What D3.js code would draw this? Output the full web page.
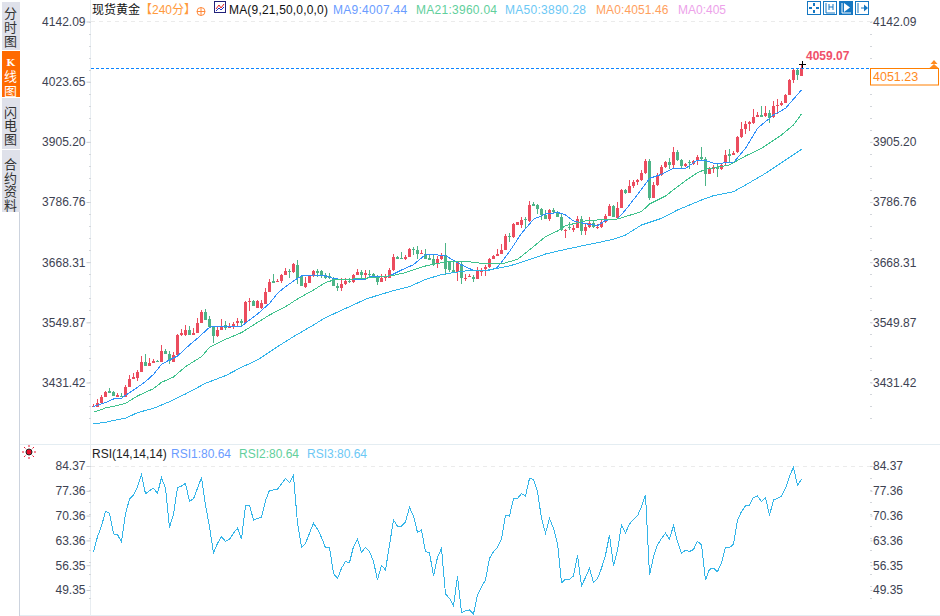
<!DOCTYPE html>
<html><head><meta charset="utf-8">
<script src="https://cdn.jsdelivr.net/npm/d3@7/dist/d3.min.js"></script>
<style>
html,body{margin:0;padding:0;background:#fff;overflow:hidden}
svg{display:block}
text{font-family:"Liberation Sans",Arial,"Noto Sans CJK SC",sans-serif;font-size:12px}
</style></head><body><svg id="c" width="940" height="616"></svg>
<script>
const priceTicks=[4142.09,4023.65,3905.20,3786.76,3668.31,3549.87,3431.42];
const priceTicksRight=[4142.09,3905.20,3786.76,3668.31,3549.87,3431.42];
const rsiTicks=[84.37,77.36,70.36,63.36,56.35,49.35];
const opens=[3383,3383,3392,3402,3415,3413,3403,3405,3403,3423,
3438,3440,3452,3472,3464,3470,3474,3472,3494,3488,
3472,3486,3525,3525,3535,3525,3529,3549,3570,3556,
3540,3523,3535,3545,3539,3541,3549,3553,3549,3590,
3592,3578,3578,3586,3610,3631,3629,3631,3643,3651,
3649,3663,3641,3620,3627,3641,3651,3651,3643,3641,
3637,3621,3618,3625,3631,3629,3643,3649,3643,3645,
3645,3641,3629,3637,3637,3653,3679,3677,3675,3679,
3694,3692,3684,3684,3677,3675,3665,3675,3682,3671,
3653,3649,3665,3635,3639,3639,3635,3649,3655,3659,
3675,3681,3684,3692,3720,3718,3742,3742,3753,3749,
3783,3781,3773,3761,3753,3771,3767,3757,3730,3737,
3732,3736,3753,3730,3738,3745,3736,3738,3747,3759,
3779,3755,3775,3810,3805,3818,3826,3830,3844,3868,
3795,3820,3840,3856,3866,3860,3885,3869,3858,3866,
3862,3868,3875,3871,3842,3852,3856,3852,3864,3881,
3879,3885,3915,3931,3940,3942,3954,3958,3956,3962,
3954,3976,3978,3982,3997,4027,4047,4035];
const closes=[3385,3392,3402,3413,3411,3405,3407,3403,3423,3438,
3442,3452,3472,3464,3470,3474,3472,3494,3488,3474,
3486,3525,3529,3535,3525,3529,3549,3570,3555,3540,
3523,3535,3541,3539,3541,3547,3553,3549,3590,3592,
3582,3592,3588,3610,3629,3627,3631,3643,3651,3649,
3665,3637,3621,3627,3641,3651,3647,3643,3637,3637,
3621,3618,3625,3631,3629,3643,3649,3643,3647,3643,
3641,3629,3637,3641,3653,3679,3675,3675,3679,3694,
3692,3684,3686,3675,3673,3663,3675,3682,3655,3653,
3649,3669,3637,3637,3641,3635,3651,3653,3659,3675,
3681,3684,3692,3720,3718,3744,3747,3751,3751,3781,
3779,3773,3761,3753,3771,3767,3757,3732,3732,3735,
3736,3753,3730,3738,3745,3738,3738,3747,3759,3779,
3757,3775,3810,3805,3818,3826,3830,3844,3868,3795,
3820,3840,3856,3866,3860,3885,3869,3858,3862,3864,
3868,3875,3871,3842,3852,3856,3852,3860,3879,3877,
3883,3915,3931,3940,3944,3954,3958,3954,3962,3952,
3976,3978,3982,3997,4027,4047,4037,4051.23];
const highs=[3389,3398,3407,3415,3421,3415,3410,3410,3427,3446,
3451,3456,3483,3488,3479,3478,3476,3505,3498,3494,
3492,3527,3537,3545,3543,3539,3558,3574,3576,3562,
3540,3541,3556,3553,3548,3550,3558,3557,3592,3598,
3594,3594,3594,3618,3635,3645,3635,3645,3657,3655,
3667,3673,3641,3639,3641,3653,3655,3653,3646,3646,
3639,3628,3637,3637,3638,3645,3655,3653,3652,3653,
3647,3643,3645,3645,3657,3684,3681,3688,3682,3696,
3698,3700,3692,3694,3684,3682,3681,3686,3706,3671,
3671,3671,3669,3645,3645,3643,3659,3657,3663,3677,
3682,3694,3704,3724,3726,3745,3747,3757,3757,3789,
3787,3783,3775,3771,3773,3775,3769,3763,3734,3747,
3742,3759,3759,3743,3757,3751,3743,3751,3764,3783,
3781,3787,3812,3812,3830,3830,3832,3850,3871,3871,
3826,3844,3860,3868,3873,3895,3889,3871,3864,3869,
3869,3879,3895,3875,3856,3860,3862,3864,3889,3891,
3887,3917,3944,3946,3946,3970,3964,3976,3976,3968,
3986,3990,3986,3999,4029,4049,4049,4059.07];
const lows=[3383,3383,3390,3402,3410,3405,3403,3403,3402,3423,
3438,3434,3452,3464,3464,3470,3472,3472,3488,3468,
3472,3485,3523,3523,3525,3525,3529,3549,3555,3540,
3509,3521,3535,3535,3539,3537,3541,3541,3549,3573,
3582,3578,3576,3586,3610,3627,3629,3627,3643,3637,
3647,3625,3621,3618,3627,3639,3639,3637,3635,3635,
3621,3612,3612,3623,3627,3627,3643,3635,3635,3637,
3639,3623,3629,3631,3637,3651,3675,3675,3673,3679,
3682,3675,3684,3675,3673,3661,3657,3673,3643,3649,
3649,3631,3625,3631,3639,3629,3635,3641,3641,3657,
3675,3681,3684,3692,3708,3716,3742,3736,3736,3747,
3779,3763,3751,3753,3749,3763,3757,3730,3716,3732,
3728,3736,3721,3722,3736,3736,3734,3736,3745,3759,
3757,3753,3775,3803,3805,3814,3820,3828,3842,3791,
3795,3818,3838,3854,3852,3852,3868,3852,3856,3852,
3860,3860,3869,3818,3842,3844,3836,3850,3860,3865,
3879,3883,3913,3921,3927,3940,3954,3954,3954,3942,
3952,3960,3976,3982,3997,4021,4027,4035];
const ma9Idx=[0,3,5,7,8,11,13,15,17,19,21,24,26,29,30,37,39,41,44,46,48,51,52,55,58,60,64,68,69,74,77,80,83,85,88,92,95,99,101,104,107,110,113,116,117,118,120,123,126,128,131,133,137,139,142,145,148,151,153,155,160,163,166,170,173,177];
const ma9Val=[3383.9,3391.8,3399,3400.3,3406.2,3422,3433.1,3447.5,3467.2,3475.8,3483.6,3505.3,3518.4,3540.1,3542,3542,3554.5,3566.3,3587.3,3607,3620.1,3636.5,3641.1,3643.1,3641.1,3635.9,3633.2,3634.5,3639.8,3641.1,3652.9,3663.4,3683.1,3683.1,3681.1,3662.8,3652.3,3652.3,3658.2,3689,3725.1,3752.7,3763.2,3765.8,3764.4,3761.2,3749.4,3744.1,3740.2,3750.7,3753.3,3771,3811.7,3833.3,3841.2,3853,3853,3869.4,3868.8,3862.9,3864.2,3892.4,3931.8,3958,3971.2,4007.44];
const ma21Idx=[0,1,3,5,8,11,15,17,20,23,27,29,33,37,40,44,48,51,55,58,60,65,71,75,78,83,88,93,97,102,106,110,113,116,117,118,123,128,131,137,139,143,148,151,153,159,163,167,172,175,177];
const ma21Val=[3374.7,3375.4,3381.3,3384.5,3390.4,3404.9,3419.3,3431.8,3442.3,3462.6,3482.3,3500.7,3516.4,3529.6,3544.7,3564.3,3580.7,3595.8,3613.6,3628,3633.2,3635.2,3638.5,3642.4,3647.7,3660.8,3668.7,3670,3666,3664.7,3673.9,3698.8,3718.5,3729.7,3734.9,3740.2,3749.4,3752.6,3753.3,3767.7,3782.8,3798.6,3828.8,3844.5,3851.1,3859.6,3877.3,3892.4,3918.7,3938.3,3960.04];
const ma50Idx=[0,3,6,8,11,15,19,23,28,33,37,41,46,50,55,58,68,71,75,79,83,87,90,94,99,104,110,113,118,130,133,137,142,146,152,155,160,163,168,173,177];
const ma50Val=[3349.8,3353.1,3358.3,3360.9,3372.1,3380.6,3393.7,3408.8,3429.8,3444.9,3461.3,3475.8,3502,3521.7,3544.7,3559.1,3595.2,3603,3612.2,3620.1,3634.5,3643.7,3647.7,3652.3,3652.9,3660.8,3675.9,3684.4,3693.6,3713.3,3721.8,3741.5,3754.6,3771,3790.7,3799.2,3807.1,3820.2,3843.2,3869.4,3890.28];
const rsi=[60.2,64.4,67.4,71.6,71.0,65.2,65.0,62.9,70.8,75.1,76.2,78.5,82.0,76.5,77.4,78.1,76.6,81.1,78.1,67.0,
70.8,78.3,78.7,79.5,74.4,75.1,78.1,81.1,73.3,67.2,59.9,62.5,64.4,63.1,63.7,65.4,66.8,63.8,73.1,73.3,
69.1,69.6,69.9,74.6,77.5,77.6,77.8,79.3,80.9,79.7,81.7,68.2,61.4,62.5,65.4,68.2,66.5,64.2,61.3,61.3,
54.0,52.6,55.5,57.4,57.1,61.6,63.7,60.0,61.4,60.2,57.4,52.2,56.3,55.0,62.1,69.1,67.4,67.4,68.6,72.7,
70.2,65.6,66.3,60.2,59.9,53.3,58.6,61.1,48.2,47.0,44.8,53.3,42.9,43.5,43.7,42.6,47.9,50.3,52.2,58.3,
60.2,61.4,63.8,70.5,70.2,75.2,75.2,76.6,75.9,80.9,80.6,77.1,69.6,65.4,69.5,66.8,62.5,51.4,52.4,52.4,
53.3,59.2,50.5,52.9,55.5,51.4,52.6,55.5,59.2,64.9,56.1,60.6,67.7,65.5,68.0,69.3,70.3,72.9,76.2,53.6,
58.7,62.1,63.9,65.4,63.7,67.6,63.0,59.7,60.6,60.2,60.8,63.1,62.1,52.2,55.2,55.5,54.5,57.1,61.4,61.3,
62.3,69.1,71.5,73.1,73.3,75.5,75.9,74.3,75.5,70.4,74.8,75.2,75.9,78.1,81.5,84.0,78.9,80.64];
const lastPrice=4051.23, lastHigh=4059.07;
const index=d3.range(opens.length);
const RED="#eb4c5e",GREEN="#4db487",C9="#2e8ffa",C21="#3fc28c",C50="#2fb3ea",CRSI="#35b5e8",AX="#3d4252";

const svg=d3.select("#c");
const x=d3.scaleLinear().domain([0,177]).range([93.5,801.5]);
const y=d3.scaleLinear().domain([3431.42,4142.09]).range([382.5,21.5]);
const yR=d3.scaleLinear().domain([49.35,84.37]).range([590,466]);
const snap=v=>Math.round(v);

// frame
const frame="#e4edf2";
svg.append("line").attr("x1",20).attr("x2",940).attr("y1",444.5).attr("y2",444.5).attr("stroke",frame);
svg.append("line").attr("x1",20).attr("x2",940).attr("y1",615.5).attr("y2",615.5).attr("stroke",frame);
svg.append("line").attr("x1",19.5).attr("x2",19.5).attr("y1",212).attr("y2",616).attr("stroke","#ccd3de");
svg.append("line").attr("x1",90.5).attr("x2",90.5).attr("y1",0).attr("y2",616).attr("stroke","#e8edf1");
svg.append("line").attr("x1",91).attr("x2",870).attr("y1",21.5).attr("y2",21.5).attr("stroke","#ebebeb").attr("stroke-dasharray","4 4");
svg.append("line").attr("x1",91).attr("x2",870).attr("y1",466.5).attr("y2",466.5).attr("stroke","#ebebeb").attr("stroke-dasharray","4 4");

// sidebar
const tabs=[{t:["分","时","图"],y0:2,y1:50,on:0,first:13,step:14},{t:["K","线","图"],y0:51,y1:97,on:1,first:62,step:14.5},{t:["闪","电","图"],y0:98,y1:149,on:0,first:112,step:13.5},{t:["合","约","资","料"],y0:150,y1:212,on:0,first:164,step:13.7}];
tabs.forEach(tb=>{
  svg.append("rect").attr("x",2).attr("y",tb.y0).attr("width",18).attr("height",tb.y1-tb.y0).attr("fill",tb.on?"#ff6a00":"#dfe1ea");
  tb.t.forEach((c,i)=>{
    const s=svg.append("text").attr("x",10.5).attr("y",tb.first+i*tb.step).attr("dy","0.38em")
    .attr("text-anchor","middle").attr("fill",tb.on?"#fff":"#333").style("font-size","13px").text(c);
    if(c=="K") s.style("font-family","'DejaVu Serif',serif").style("font-size","10px").attr("font-weight","bold");
  });
});

// axes
function axis(scale,ticks,orient,xp){
  const a=(orient=="l"?d3.axisLeft(scale).tickSize(4).tickPadding(1):d3.axisRight(scale).tickSize(2).tickPadding(0.5)).tickValues(ticks).tickFormat(d=>d.toFixed(2));
  const g=svg.append("g").attr("transform",`translate(${xp},0)`).call(a);
  g.select(".domain").remove();
  g.selectAll("line").attr("stroke","#c8ccd2");
  g.selectAll("text").attr("fill",AX).style("font-size","12px").attr("font-family","Liberation Sans");
}
axis(y,priceTicks,"l",90.5);axis(y,priceTicksRight,"r",870.5);
axis(yR,rsiTicks,"l",90.5);axis(yR,rsiTicks,"r",870.5);
// minor marks
function minor(sc,from,to,step){
  const px=d3.range(sc(from),sc(to),step);
  [[89,91],[870,872]].forEach(([a,b])=>svg.append("g").selectAll("line").data(px).join("line")
    .attr("x1",a).attr("x2",b).attr("y1",d=>snap(d)+.5).attr("y2",d=>snap(d)+.5).attr("stroke","#d3d6db"));
}
minor(y,4142.09,3350,12);minor(yR,84.37,46,12);

// candles
const up=i=>closes[i]>=opens[i];
const cg=svg.append("g").attr("shape-rendering","crispEdges");
cg.selectAll("line").data(index).join("line")
  .attr("x1",i=>x(i)).attr("x2",i=>x(i)).attr("y1",i=>y(highs[i])).attr("y2",i=>y(lows[i]))
  .attr("stroke",i=>up(i)?RED:GREEN);
cg.selectAll("rect").data(index).join("rect")
  .attr("x",i=>x(i)-1.5).attr("width",3)
  .attr("y",i=>y(Math.max(opens[i],closes[i])))
  .attr("height",i=>Math.max(1,Math.abs(y(opens[i])-y(closes[i]))))
  .attr("fill",i=>up(i)?RED:GREEN);

// moving averages
const lineP=d3.line().x(d=>x(d[0])).y(d=>y(d[1]));
[[ma9Idx,ma9Val,C9],[ma21Idx,ma21Val,C21],[ma50Idx,ma50Val,C50]].forEach(([a,b,c])=>
  svg.append("path").attr("d",lineP(d3.zip(a,b))).attr("fill","none").attr("stroke",c).attr("stroke-width",1).attr("shape-rendering","crispEdges"));

// RSI
svg.append("path").attr("d",d3.line().x((d,i)=>x(i)).y(d=>yR(d))(rsi)).attr("fill","none").attr("stroke",CRSI).attr("stroke-width",1).attr("shape-rendering","crispEdges");

// last price
svg.append("line").attr("x1",91).attr("x2",870).attr("y1",68.5).attr("y2",68.5).attr("stroke","#0a84ff").attr("stroke-dasharray","3 2").attr("stroke-width",1);
svg.append("rect").attr("x",870.5).attr("y",68.5).attr("width",68).attr("height",16.5).attr("fill","#fff").attr("stroke","#ff7f00");
svg.append("text").attr("x",873).attr("y",81).attr("fill","#ff8a1e").style("font-size","12.5px").text(lastPrice.toFixed(2));
svg.append("path").attr("d","M934 60l3.5 4h-7zM934 64l4.5 4h-9z").attr("fill","#ff8a1e");
svg.append("text").attr("x",806).attr("y",60).attr("fill","#f0506a").attr("font-weight","bold").style("font-size","12px").text(lastHigh.toFixed(2));
svg.append("path").attr("d","M798.5 64.5h7M802.5 61v7").attr("stroke","#000").attr("shape-rendering","crispEdges");

// header
const hdr=(xp,yp,t,c,ls)=>svg.append("text").attr("x",xp).attr("y",yp).attr("fill",c).style("letter-spacing",(ls||0)+"px").text(t);
hdr(92,14,"现货黄金","#111");
hdr(140,14,"【240分】","#ff9a3c");
svg.append("circle").attr("cx",201).attr("cy",11.5).attr("r",4).attr("fill","none").attr("stroke","#ff8a3c");
svg.append("path").attr("d","M197 11.5h8M201 7.5v8").attr("stroke","#ff8a3c").attr("fill","none");
svg.append("rect").attr("x",214.5).attr("y",1.5).attr("width",11).attr("height",11).attr("fill","#fff").attr("stroke","#22227a");
svg.append("path").attr("d","M216 9l3-4 2 3 3-4").attr("stroke","#e02020").attr("fill","none");
svg.append("path").attr("d","M216 11l3-3 2 2 3-3").attr("stroke","#2030c0").attr("fill","none");
hdr(229,14,"MA(9,21,50,0,0,0)","#111",0.18);
hdr(333,14,"MA9:4007.44","#6a9cff",0.27);
hdr(416,14,"MA21:3960.04","#62cf9c",0.27);
hdr(505,14,"MA50:3890.28","#6cc8f5",0.27);
hdr(596,14,"MA0:4051.46","#ff9f5e",0.1);
hdr(678,14,"MA0:405","#eda2ea");
hdr(92,458,"RSI(14,14,14)","#222");
hdr(171,458,"RSI1:80.64","#6a9cff");
hdr(239,458,"RSI2:80.64","#62cf9c");
hdr(307,458,"RSI3:80.64","#6cc8f5");

// sun icon
const sun=svg.append("g").attr("transform","translate(29,452)");
sun.append("circle").attr("r",3).attr("fill","#e8102a").attr("stroke","#222").attr("stroke-width",1);
d3.range(8).forEach(k=>{const a=k*Math.PI/4;
  sun.append("line").attr("x1",5*Math.cos(a)).attr("y1",5*Math.sin(a)).attr("x2",7*Math.cos(a)).attr("y2",7*Math.sin(a)).attr("stroke","#e8102a");});

// toolbar
const B="#1577c2";
[[807,0],[823,0],[839,1],[855,0]].forEach(([bx,fill],k)=>{
  svg.append("rect").attr("x",bx+.5).attr("y",1.5).attr("width",13).attr("height",13).attr("fill",fill?B:"#fff").attr("stroke",B);
  const c=fill?"#fff":B;
  const d=[
   `M${bx+7} 3v3M${bx+7} 10v3M${bx+2} 8h3M${bx+9} 8h3`,
   `M${bx+3} 3v10h9M${bx+6} 4v6M${bx+10} 4v6M${bx+6} 7h4`,
   `M${bx+3} 3v10h9`,
   `M${bx+3} 3v10M${bx+6} 8h6`][k];
  svg.append("path").attr("d",d).attr("stroke",c).attr("fill","none").attr("stroke-width",k==0?2:1);
  if(k==2) svg.append("path").attr("d",`M${bx+5} 3l6 4.5-6 4.5z`).attr("fill",c);
  if(k==3) svg.append("path").attr("d",`M${bx+9} 4.5l4 3.5-4 3.5z`).attr("fill",c);
});
</script></body></html>
